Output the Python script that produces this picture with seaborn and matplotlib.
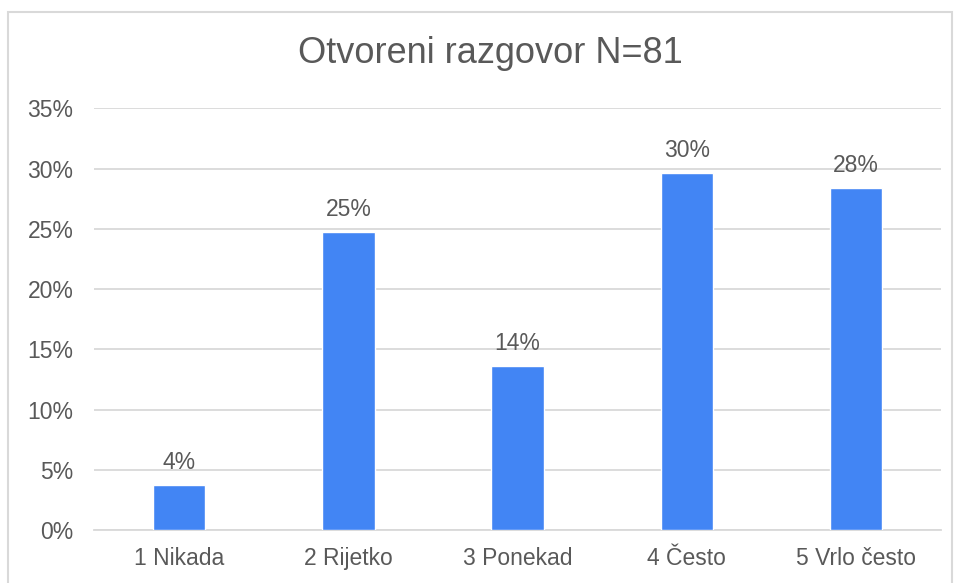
import matplotlib
matplotlib.use("Agg")
import matplotlib.pyplot as plt
import seaborn as sns
import pandas as pd
from matplotlib.patches import Rectangle

# data (share of N=81 answers, in %)
categories = ["1 Nikada", "2 Rijetko", "3 Ponekad", "4 Često", "5 Vrlo često"]
values = [3.7, 24.7, 13.6, 29.6, 28.4]
y_ticks = [0, 5, 10, 15, 20, 25, 30, 35]
title = "Otvoreni razgovor N=81"

BAR_COLOR = "#4285F4"
TEXT_COLOR = "#595959"
GRID_COLOR = "#D9D9D9"

sns.set_theme(style="white")
plt.rcParams["font.family"] = ["Liberation Sans", "DejaVu Sans"]

df = pd.DataFrame({"category": categories, "value": values})

fig = plt.figure(figsize=(9.63, 5.83), dpi=100)
ax = fig.add_axes([0.098, 0.0909, 0.879, 0.7233])

sns.barplot(data=df, x="category", y="value", color=BAR_COLOR, width=0.31,
            saturation=1, ax=ax, zorder=3)

ax.set_ylim(0, 35)
ax.set_xlim(-0.5, len(categories) - 0.5)
ax.set_yticks(y_ticks)
ax.set_yticklabels([f"{t}%" for t in y_ticks])
ax.set_xlabel("")
ax.set_ylabel("")

ax.yaxis.grid(True, color=GRID_COLOR, linewidth=1.3, zorder=0)
ax.set_axisbelow(True)
for side in ["top", "right", "left"]:
    ax.spines[side].set_visible(False)
ax.spines["bottom"].set_color(GRID_COLOR)
ax.spines["bottom"].set_linewidth(1.3)

ax.tick_params(axis="x", length=0, pad=12, labelsize=16.5, labelcolor=TEXT_COLOR)
ax.tick_params(axis="y", length=0, pad=15, labelsize=16.5, labelcolor=TEXT_COLOR)

# value labels above bars
for i, v in enumerate(values):
    ax.annotate(f"{round(v):.0f}%", xy=(i, v), xytext=(0, 11.5),
                textcoords="offset points", ha="center", va="baseline",
                fontsize=16.5, color=TEXT_COLOR)

fig.text(0.509, 0.892, title, ha="center", va="baseline",
         fontsize=26, color=TEXT_COLOR)

# chart border
fig.patches.append(Rectangle((8 / 963, -0.02), 944 / 963, 1.02 - 12 / 583,
                             transform=fig.transFigure, fill=False,
                             edgecolor=GRID_COLOR, linewidth=1.5))

fig.savefig("out.png", dpi=100, facecolor="white")
